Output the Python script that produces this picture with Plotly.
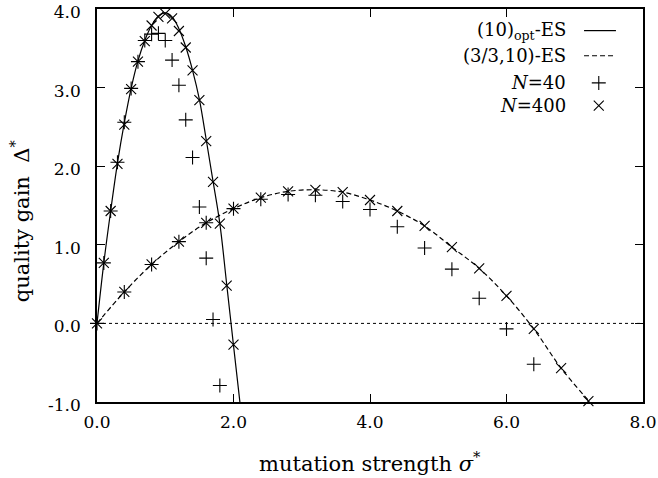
import plotly.graph_objects as go

# ---------------- data ----------------
# theory curve (10)_opt-ES
theo_opt_sigma = [0.0, 0.1, 0.2, 0.3, 0.4, 0.5, 0.6, 0.7, 0.8, 0.9, 1.0, 1.1, 1.2,
                  1.3, 1.4, 1.5, 1.6, 1.7, 1.8, 1.9, 2.0, 2.1]
theo_opt_gain = [0.0, 0.77, 1.43, 2.04, 2.55, 2.99, 3.34, 3.60, 3.79, 3.91, 3.95, 3.90,
                 3.75, 3.52, 3.22, 2.85, 2.34, 1.81, 1.27, 0.50, -0.28, -1.05]

# theory curve (3/3,10)-ES
theo_int_sigma = [0.0, 0.4, 0.8, 1.2, 1.6, 2.0, 2.4, 2.8, 3.2, 3.6, 4.0, 4.4, 4.8,
                  5.2, 5.6, 6.0, 6.4, 6.8, 7.2, 7.22]
theo_int_gain = [0.0, 0.40, 0.75, 1.04, 1.28, 1.46, 1.60, 1.68, 1.70, 1.67, 1.57, 1.43,
                 1.24, 0.97, 0.70, 0.35, -0.07, -0.57, -0.98, -1.0]

# simulations N=40 (+)
n40_opt_sigma = [0.0, 0.1, 0.2, 0.3, 0.4, 0.5, 0.6, 0.7, 0.8, 0.9, 1.0, 1.1, 1.2,
                 1.3, 1.4, 1.5, 1.6, 1.7, 1.8]
n40_opt_gain = [0.0, 0.77, 1.43, 2.05, 2.56, 2.99, 3.33, 3.60, 3.68, 3.69, 3.60, 3.35,
                3.03, 2.59, 2.11, 1.48, 0.83, 0.05, -0.79]
n40_int_sigma = [0.4, 0.8, 1.2, 1.6, 2.0, 2.4, 2.8, 3.2, 3.6, 4.0, 4.4, 4.8, 5.2,
                 5.6, 6.0, 6.4]
n40_int_gain = [0.40, 0.75, 1.04, 1.28, 1.46, 1.58, 1.64, 1.63, 1.55, 1.45, 1.23,
                0.96, 0.69, 0.32, -0.07, -0.52]

# simulations N=400 (x)
n400_opt_sigma = [0.0, 0.1, 0.2, 0.3, 0.4, 0.5, 0.6, 0.7, 0.8, 0.9, 1.0, 1.1, 1.2,
                  1.3, 1.4, 1.5, 1.6, 1.7, 1.8, 1.9, 2.0]
n400_opt_gain = [0.0, 0.77, 1.43, 2.03, 2.53, 2.98, 3.33, 3.59, 3.79, 3.90, 3.94, 3.88,
                 3.72, 3.51, 3.22, 2.84, 2.32, 1.80, 1.27, 0.48, -0.27]
n400_int_sigma = [0.4, 0.8, 1.2, 1.6, 2.0, 2.4, 2.8, 3.2, 3.6, 4.0, 4.4, 4.8, 5.2,
                  5.6, 6.0, 6.4, 6.8, 7.2]
n400_int_gain = [0.40, 0.75, 1.04, 1.28, 1.46, 1.60, 1.68, 1.70, 1.67, 1.57, 1.43,
                 1.24, 0.97, 0.70, 0.35, -0.07, -0.57, -0.99]

x_ticks = [0, 2, 4, 6, 8]
x_tick_labels = ["0.0", "2.0", "4.0", "6.0", "8.0"]
y_ticks = [-1, 0, 1, 2, 3, 4]
y_tick_labels = ["-1.0", "0.0", "1.0", "2.0", "3.0", "4.0"]

legend_labels = ["(10)<sub>opt</sub>-ES", "(3/3,10)-ES", "<i>N</i>=40", "<i>N</i>=400"]

FONT = "DejaVu Serif"

fig = go.Figure()

fig.add_trace(go.Scatter(x=theo_opt_sigma, y=theo_opt_gain, mode="lines",
                         line=dict(color="black", width=1.2, shape="spline"),
                         showlegend=False))
fig.add_trace(go.Scatter(x=theo_int_sigma, y=theo_int_gain, mode="lines",
                         line=dict(color="black", width=1.2, shape="spline", dash="5px,3px"),
                         showlegend=False))

plus = dict(symbol="cross-thin", size=10, color="black", line=dict(color="black", width=1.1))
cross = dict(symbol="x-thin", size=10, color="black", line=dict(color="black", width=1.1))

for xs, ys in [(n40_opt_sigma, n40_opt_gain), (n40_int_sigma, n40_int_gain)]:
    fig.add_trace(go.Scatter(x=xs, y=ys, mode="markers", marker=plus,
                             showlegend=False, cliponaxis=False))
for xs, ys in [(n400_opt_sigma, n400_opt_gain), (n400_int_sigma, n400_int_gain)]:
    fig.add_trace(go.Scatter(x=xs, y=ys, mode="markers", marker=cross,
                             showlegend=False, cliponaxis=False))

# legend keys (overlay axes in plot-fraction units)
leg_y = [0.945, 0.881, 0.812, 0.754]
leg_text_x = 0.8626
leg_line_x0, leg_line_x1 = 0.892, 0.9505
leg_mark_x = 0.919

fig.add_trace(go.Scatter(x=[leg_line_x0, leg_line_x1], y=[leg_y[0]] * 2, mode="lines",
                         line=dict(color="black", width=1.2), xaxis="x2", yaxis="y2",
                         showlegend=False))
fig.add_trace(go.Scatter(x=[leg_line_x0, leg_line_x1], y=[leg_y[1]] * 2, mode="lines",
                         line=dict(color="black", width=1.2, dash="5px,3px"),
                         xaxis="x2", yaxis="y2", showlegend=False))
fig.add_trace(go.Scatter(x=[leg_mark_x], y=[leg_y[2]], mode="markers", marker=plus,
                         xaxis="x2", yaxis="y2", showlegend=False))
fig.add_trace(go.Scatter(x=[leg_mark_x], y=[leg_y[3]], mode="markers", marker=cross,
                         xaxis="x2", yaxis="y2", showlegend=False))

annotations = []
for lab, yy in zip(legend_labels, leg_y):
    annotations.append(dict(text=lab, x=leg_text_x, y=yy, xref="paper", yref="paper",
                            xanchor="right", yanchor="middle", showarrow=False,
                            font=dict(family=FONT, size=18, color="black")))

# axis titles
annotations.append(dict(text="mutation strength <i>σ</i><sup>*</sup>", x=0.5, y=-0.152,
                        xref="paper", yref="paper", xanchor="center", yanchor="middle",
                        showarrow=False, font=dict(family=FONT, size=21, color="black")))
annotations.append(dict(text="quality gain  Δ<sup>*</sup>", x=-0.141, y=0.46,
                        xref="paper", yref="paper", xanchor="center", yanchor="middle",
                        textangle=-90, showarrow=False,
                        font=dict(family=FONT, size=21, color="black")))

tickfont = dict(family=FONT, size=17, color="black")

fig.update_layout(
    width=658, height=478,
    margin=dict(l=97, r=15, t=9, b=76, autoexpand=False),
    paper_bgcolor="white", plot_bgcolor="white",
    font=dict(family=FONT, size=17, color="black"),
    annotations=annotations,
    shapes=[dict(type="line", xref="paper", yref="y", x0=0, x1=1, y0=0, y1=0,
                 line=dict(color="black", width=1, dash="dot"), layer="below")],
    xaxis=dict(range=[0, 8], tickvals=x_ticks, ticktext=x_tick_labels, tickfont=tickfont,
               showgrid=False, zeroline=False, showline=True, linecolor="black",
               linewidth=1.5, mirror="allticks", ticks="inside", ticklen=8,
               tickwidth=1.2, tickcolor="black", ticklabelstandoff=4,
               ticklabeloverflow="allow", automargin=False),
    yaxis=dict(range=[-1, 4], tickvals=y_ticks, ticktext=y_tick_labels, tickfont=tickfont,
               showgrid=False, zeroline=False, showline=True, linecolor="black",
               linewidth=1.5, mirror="allticks", ticks="inside", ticklen=8,
               tickwidth=1.2, tickcolor="black", ticklabelstandoff=11,
               ticklabelshift=3,
               ticklabeloverflow="allow", automargin=False),
    xaxis2=dict(range=[0, 1], overlaying="x", visible=False, fixedrange=True),
    yaxis2=dict(range=[0, 1], overlaying="y", visible=False, fixedrange=True),
)

fig.write_html("out.html")
